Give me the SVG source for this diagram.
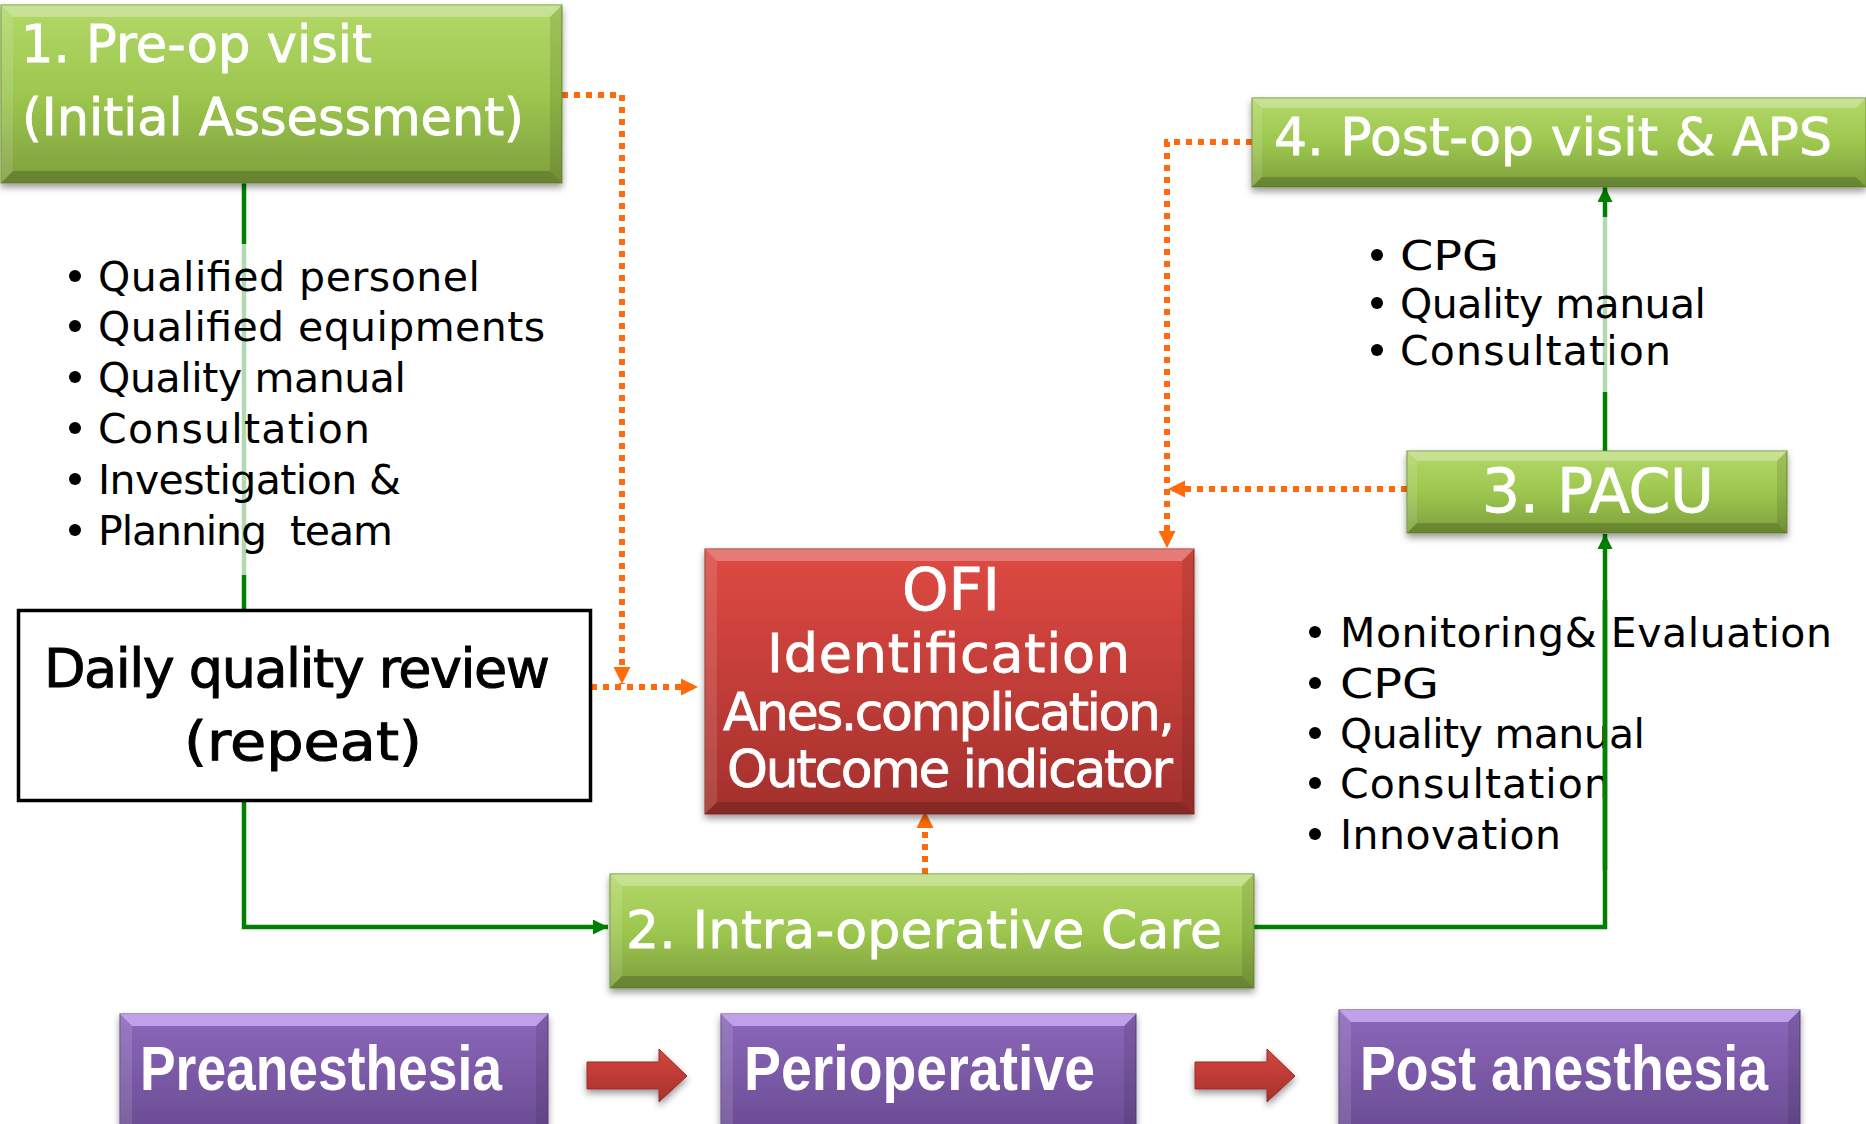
<svg xmlns="http://www.w3.org/2000/svg" width="1866" height="1124" viewBox="0 0 1866 1124">
  <defs>
    <linearGradient id="gGreen" x1="0" y1="0" x2="0" y2="1">
      <stop offset="0" stop-color="#b3d869"/>
      <stop offset="0.5" stop-color="#9dc74f"/>
      <stop offset="1" stop-color="#7e9f3c"/>
    </linearGradient>
    <linearGradient id="gRed" x1="0" y1="0" x2="0" y2="1">
      <stop offset="0" stop-color="#de4a43"/>
      <stop offset="0.5" stop-color="#c23d38"/>
      <stop offset="1" stop-color="#a2302d"/>
    </linearGradient>
    <linearGradient id="gPurple" x1="0" y1="0" x2="0" y2="1">
      <stop offset="0" stop-color="#8c68bb"/>
      <stop offset="1" stop-color="#694b92"/>
    </linearGradient>
    <linearGradient id="gArrow" x1="0" y1="0" x2="0" y2="1">
      <stop offset="0" stop-color="#d4463e"/>
      <stop offset="1" stop-color="#a8302b"/>
    </linearGradient>
    <filter id="shadow" x="-10%" y="-10%" width="120%" height="130%">
      <feDropShadow dx="0" dy="4" stdDeviation="3.5" flood-color="#000" flood-opacity="0.4"/>
    </filter>
    <marker id="arrGreen" viewBox="0 0 10 10" refX="10" refY="5" markerUnits="userSpaceOnUse" markerWidth="17" markerHeight="15" orient="auto">
      <path d="M0,0 L10,5 L0,10 z" fill="#008000" stroke="none"/>
    </marker>
    <marker id="arrOrange" viewBox="0 0 10 10" refX="10" refY="5" markerUnits="userSpaceOnUse" markerWidth="17" markerHeight="18" orient="auto">
      <path d="M0,0 L10,5 L0,10 z" fill="#ff6a0a" stroke="none"/>
    </marker>
  </defs>
  <style>
    .green { fill: url(#gGreen); stroke: #6f9033; stroke-width: 1; }
    .red { fill: url(#gRed); stroke: #8f2a27; stroke-width: 1; }
    .purple { fill: url(#gPurple); stroke: #5a4080; stroke-width: 1; }
    .hiTop { fill: #ffffff; opacity: 0.28; }
    .hiLeft { fill: #ffffff; opacity: 0.12; }
    .shRight { fill: #000000; opacity: 0.1; }
    .shBot { fill: #000000; opacity: 0.18; }
    .boxText { font-family: "DejaVu Sans", "Liberation Sans", sans-serif; fill: #ffffff; stroke: #ffffff; stroke-width: 0.8; }
    .phase { font-family: "Liberation Sans", Arial, sans-serif; font-weight: bold; fill: #ffffff; font-size: 63px; }
    .list { font-family: "DejaVu Sans", "Liberation Sans", sans-serif; fill: #000000; font-size: 41px; }
    .dailyText { font-family: "DejaVu Sans", "Liberation Sans", sans-serif; fill: #000000; stroke: #000000; stroke-width: 1; font-size: 54px; }
    .lineGreen { fill: none; stroke: #008000; stroke-width: 4.5; }
    .lineOrange { fill: none; stroke: #ff6a0a; stroke-width: 6; stroke-dasharray: 6 6; }
    .fade { fill: #ffffff; opacity: 0.7; }
  </style>

  <rect width="1866" height="1124" fill="#ffffff"/>

  <!-- connectors -->
  <g id="connectors">
    <path class="lineGreen" d="M244,183 V610"/>
    <path class="lineGreen" d="M244,800 V927 H608" marker-end="url(#arrGreen)"/>
    <path class="lineGreen" d="M1254,927 H1605 V534" marker-end="url(#arrGreen)"/>
    <path class="lineGreen" d="M1605,451 V187" marker-end="url(#arrGreen)"/>
    <path class="lineOrange" d="M562,95 H622 V684" marker-end="url(#arrOrange)"/>
    <path class="lineOrange" d="M591,687 H698" marker-end="url(#arrOrange)"/>
    <path class="lineOrange" d="M925,874 V811" marker-end="url(#arrOrange)"/>
    <path class="lineOrange" d="M1407,489 H1168" marker-end="url(#arrOrange)"/>
    <path class="lineOrange" d="M1252,142 H1167 V548" marker-end="url(#arrOrange)"/>
  </g>

  <!-- translucent text panels that soften the lines beneath them -->
  <rect class="fade" x="62" y="244" width="540" height="331"/>
  <rect class="fade" x="1365" y="217" width="350" height="175"/>

  <!-- 1. Pre-op visit -->
  <g id="node-preop" transform="translate(1,5)">
    <rect class="green" width="561" height="178" filter="url(#shadow)"/>
    <polygon class="hiTop" points="0,0 561,0 549,12 12,12"/>
    <polygon class="hiLeft" points="0,0 12,12 12,166 0,178"/>
    <polygon class="shRight" points="561,0 549,12 549,166 561,178"/>
    <polygon class="shBot" points="0,178 561,178 549,166 12,166"/>
    <text class="boxText" x="20" y="57" font-size="51" textLength="351" lengthAdjust="spacing">1. Pre-op visit</text>
    <text class="boxText" x="21" y="130" font-size="51" textLength="502" lengthAdjust="spacing">(Initial Assessment)</text>
  </g>

  <!-- 4. Post-op visit & APS -->
  <g id="node-postop" transform="translate(1252,98)">
    <rect class="green" width="614" height="89" filter="url(#shadow)"/>
    <polygon class="hiTop" points="0,0 614,0 604,10 10,10"/>
    <polygon class="hiLeft" points="0,0 10,10 10,79 0,89"/>
    <polygon class="shBot" points="0,89 614,89 604,79 10,79"/>
    <text class="boxText" x="22" y="57" font-size="52" textLength="558" lengthAdjust="spacing">4. Post-op visit &amp; APS</text>
  </g>

  <!-- 3. PACU -->
  <g id="node-pacu" transform="translate(1407,451)">
    <rect class="green" width="380" height="82" filter="url(#shadow)"/>
    <polygon class="hiTop" points="0,0 380,0 370,10 10,10"/>
    <polygon class="hiLeft" points="0,0 10,10 10,72 0,82"/>
    <polygon class="shRight" points="380,0 370,10 370,72 380,82"/>
    <polygon class="shBot" points="0,82 380,82 370,72 10,72"/>
    <text class="boxText" x="75" y="61" font-size="60" textLength="232" lengthAdjust="spacing">3. PACU</text>
  </g>

  <!-- OFI -->
  <g id="node-ofi" transform="translate(705,549)">
    <rect class="red" width="489" height="265" filter="url(#shadow)"/>
    <polygon class="hiTop" points="0,0 489,0 477,12 12,12"/>
    <polygon class="hiLeft" points="0,0 12,12 12,253 0,265"/>
    <polygon class="shRight" points="489,0 477,12 477,253 489,265"/>
    <polygon class="shBot" points="0,265 489,265 477,253 12,253"/>
    <text class="boxText" x="197" y="61" font-size="58" textLength="98" lengthAdjust="spacingAndGlyphs">OFI</text>
    <text class="boxText" x="62" y="123" font-size="54" textLength="363" lengthAdjust="spacing">Identification</text>
    <text class="boxText" x="18" y="181" font-size="52" textLength="452" lengthAdjust="spacing">Anes.complication,</text>
    <text class="boxText" x="22" y="238" font-size="52" textLength="446" lengthAdjust="spacing">Outcome indicator</text>
  </g>

  <!-- Daily quality review -->
  <g id="node-daily">
    <rect x="18.5" y="610.5" width="572" height="190" fill="#ffffff" stroke="#000000" stroke-width="3.5"/>
    <text class="dailyText" x="44" y="687" textLength="506" lengthAdjust="spacing">Daily quality review</text>
    <text class="dailyText" x="184" y="760" textLength="238" lengthAdjust="spacingAndGlyphs">(repeat)</text>
  </g>

  <!-- 2. Intra-operative Care -->
  <g id="node-intraop" transform="translate(610,874)">
    <rect class="green" width="644" height="114" filter="url(#shadow)"/>
    <polygon class="hiTop" points="0,0 644,0 632,12 12,12"/>
    <polygon class="hiLeft" points="0,0 12,12 12,102 0,114"/>
    <polygon class="shRight" points="644,0 632,12 632,102 644,114"/>
    <polygon class="shBot" points="0,114 644,114 632,102 12,102"/>
    <text class="boxText" x="16" y="74" font-size="52" textLength="596" lengthAdjust="spacing">2. Intra-operative Care</text>
  </g>

  <!-- bullet lists -->
  <g id="list-preop">
    <circle cx="75" cy="276" r="6"/>
    <circle cx="75" cy="326" r="6"/>
    <circle cx="75" cy="377" r="6"/>
    <circle cx="75" cy="428" r="6"/>
    <circle cx="75" cy="479" r="6"/>
    <circle cx="75" cy="530" r="6"/>
    <text class="list" x="98" y="291" textLength="382" lengthAdjust="spacing">Qualified personel</text>
    <text class="list" x="98" y="341" textLength="447" lengthAdjust="spacing">Qualified equipments</text>
    <text class="list" x="98" y="392" textLength="308" lengthAdjust="spacing">Quality manual</text>
    <text class="list" x="98" y="443" textLength="272" lengthAdjust="spacing">Consultation</text>
    <text class="list" x="98" y="494" textLength="303" lengthAdjust="spacing">Investigation &amp;</text>
    <text class="list" x="98" y="545" textLength="295" lengthAdjust="spacing" style="white-space:pre">Planning  team</text>
  </g>

  <g id="list-postop">
    <circle cx="1377" cy="255" r="6"/>
    <circle cx="1377" cy="303" r="6"/>
    <circle cx="1377" cy="350" r="6"/>
    <text class="list" x="1400" y="270" textLength="99" lengthAdjust="spacingAndGlyphs">CPG</text>
    <text class="list" x="1400" y="318" textLength="306" lengthAdjust="spacing">Quality manual</text>
    <text class="list" x="1400" y="365" textLength="271" lengthAdjust="spacing">Consultation</text>
  </g>

  <g id="list-pacu">
    <circle cx="1315" cy="632" r="6"/>
    <circle cx="1315" cy="683" r="6"/>
    <circle cx="1315" cy="733" r="6"/>
    <circle cx="1315" cy="783" r="6"/>
    <circle cx="1315" cy="834" r="6"/>
    <text class="list" x="1340" y="647" textLength="492" lengthAdjust="spacing">Monitoring&amp; Evaluation</text>
    <text class="list" x="1340" y="698" textLength="99" lengthAdjust="spacingAndGlyphs">CPG</text>
    <text class="list" x="1340" y="748" textLength="305" lengthAdjust="spacing">Quality manual</text>
    <text class="list" x="1340" y="798" textLength="270" lengthAdjust="spacing">Consultation</text>
    <text class="list" x="1340" y="849" textLength="221" lengthAdjust="spacing">Innovation</text>
  </g>
  <!-- the PACU line runs over its list text -->
  <path class="lineGreen" d="M1605,600 V870"/>

  <!-- phase bar -->
  <g id="phase-pre" transform="translate(120,1014)">
    <rect class="purple" width="428" height="120" filter="url(#shadow)"/>
    <polygon fill="#d2b4fa" opacity="0.75" points="0,0 428,0 416,12 12,12"/>
    <polygon class="hiLeft" points="0,0 12,12 12,120 0,120"/>
    <polygon class="shRight" points="428,0 416,12 416,120 428,120"/>
    <text class="phase" x="20" y="76" textLength="362" lengthAdjust="spacingAndGlyphs">Preanesthesia</text>
  </g>
  <g id="phase-peri" transform="translate(721,1014)">
    <rect class="purple" width="415" height="120" filter="url(#shadow)"/>
    <polygon fill="#d2b4fa" opacity="0.75" points="0,0 415,0 403,12 12,12"/>
    <polygon class="hiLeft" points="0,0 12,12 12,120 0,120"/>
    <polygon class="shRight" points="415,0 403,12 403,120 415,120"/>
    <text class="phase" x="23" y="76" textLength="351" lengthAdjust="spacingAndGlyphs">Perioperative</text>
  </g>
  <g id="phase-post" transform="translate(1339,1010)">
    <rect class="purple" width="461" height="124" filter="url(#shadow)"/>
    <polygon fill="#d2b4fa" opacity="0.75" points="0,0 461,0 449,12 12,12"/>
    <polygon class="hiLeft" points="0,0 12,12 12,124 0,124"/>
    <polygon class="shRight" points="461,0 449,12 449,124 461,124"/>
    <text class="phase" x="21" y="80" textLength="408" lengthAdjust="spacingAndGlyphs">Post anesthesia</text>
  </g>

  <g id="phase-arrows">
    <polygon fill="url(#gArrow)" stroke="#9a2c28" stroke-width="1" filter="url(#shadow)" points="587,1062 659,1062 659,1049 687,1076 659,1102 659,1089 587,1089"/>
    <polygon fill="url(#gArrow)" stroke="#9a2c28" stroke-width="1" filter="url(#shadow)" points="1195,1062 1267,1062 1267,1049 1295,1076 1267,1102 1267,1089 1195,1089"/>
  </g>
</svg>
